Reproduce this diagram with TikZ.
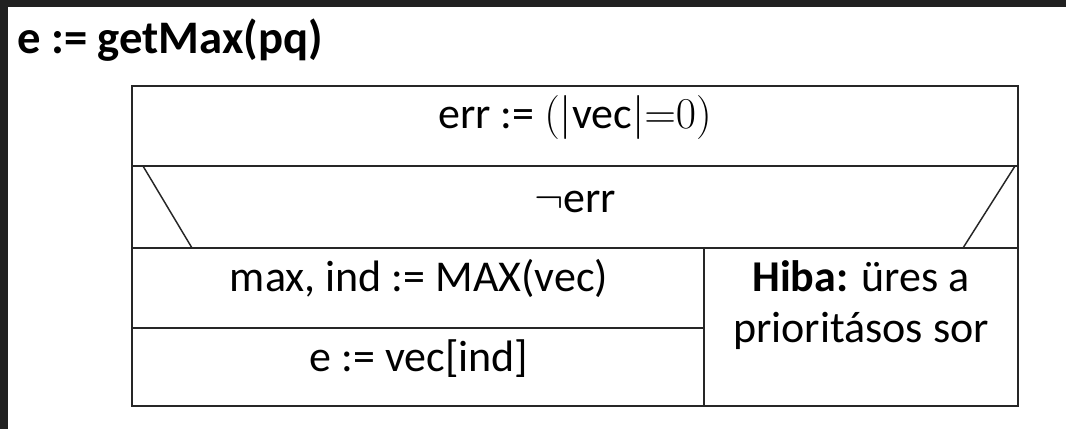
\RequirePackage{fix-cm}
\documentclass[tikz,border=0pt]{standalone}
\usepackage{fontspec}
\setmainfont{Carlito}
\begin{document}
\begin{tikzpicture}[x=0.75pt,y=-0.75pt,
  frame/.style={line width=1.1pt, draw=black!85},
  cell/.style={font=\fontsize{33}{40}\selectfont, anchor=base, inner sep=0pt},
  heading/.style={font=\bfseries\fontsize{35}{42}\selectfont, anchor=base west, inner sep=0pt}]
\useasboundingbox (0,0) rectangle (1066,429);
% page and dark surround
\fill[white] (0,0) rectangle (1066,429);
\fill[black!87] (0,0) rectangle (1066,7);
\fill[black!87] (0,0) rectangle (8,429);
% heading
\node[heading] (title) at (17,53) {e := getMax(pq)};
% structogram frame
\draw[frame] (132,86) rectangle (1018,406);
\draw[frame] (132,166) -- (1018,166);
\draw[frame] (132,248) -- (1018,248);
\draw[frame] (704,248) -- (704,406);
\draw[frame] (132,328) -- (704,328);
% branch triangle edges
\draw[frame] (143,166) -- (192,248);
\draw[frame] (1015,166) -- (963,248);
% cell texts
\node[cell] (init) at (575,128) {err := $(|$vec$|{=}0)$};
\node[cell] (cond) at (575,212) {$\neg$err};
\node[cell] (maxstep) at (419,291) {max, ind := MAX(vec)};
\node[cell] (assign) at (419,371) {e := vec[ind]};
\node[cell] (err1) at (861,291) {\textbf{Hiba:} üres a};
\node[cell] (err2) at (861,342) {prioritásos sor};
\end{tikzpicture}
\end{document}
